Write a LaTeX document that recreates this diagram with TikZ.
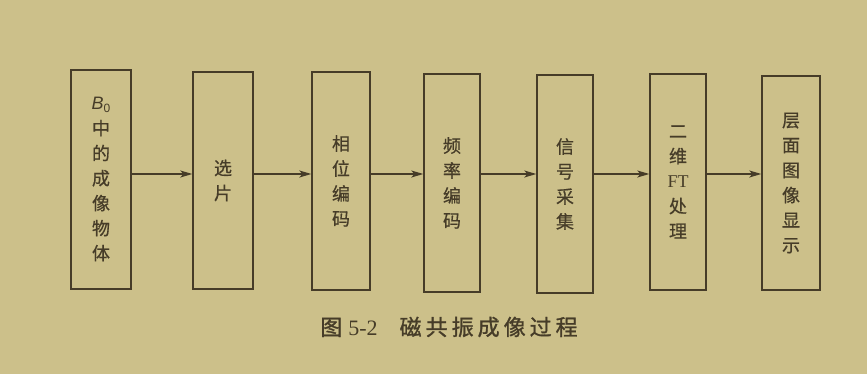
\documentclass[tikz,border=0pt]{standalone}
\usepackage{fontspec}
\setmainfont[FakeBold=0.6]{Noto Sans CJK SC}
\newfontfamily\capfont[FakeBold=1.2]{Noto Sans CJK SC}
\newfontfamily\latserif{Liberation Serif}
\newfontfamily\latsans{Liberation Sans}
\usetikzlibrary{arrows.meta}
\definecolor{paper}{RGB}{204,192,138}
\definecolor{ink}{RGB}{70,60,40}
\newcommand{\capsp}{\hspace{4pt}}
\tikzset{
  stagebox/.style={draw=ink, line width=1.4pt, inner sep=0pt, align=center,
    text=ink, font=\fontsize{18}{25}\selectfont},
  arr/.style={draw=ink, line width=1.3pt, -{Stealth[length=12pt,width=7pt,inset=3pt]}},
}
\begin{document}
\begin{tikzpicture}[x=1pt,y=1pt]
\fill[paper] (0,0) rectangle (867,374);
\useasboundingbox (0,0) rectangle (867,374);
\node[stagebox, minimum width=60pt, minimum height=219pt] (b1) at (101,194.5) {{\latsans\itshape B\raisebox{-3pt}{\upshape\fontsize{12}{12}\selectfont 0}}\\中\\的\\成\\像\\物\\体};
\node[stagebox, minimum width=60pt, minimum height=217pt] (b2) at (223,193.5) {选\\片};
\node[stagebox, minimum width=58pt, minimum height=218pt] (b3) at (341,193) {相\\位\\编\\码};
\node[stagebox, minimum width=56pt, minimum height=218pt] (b4) at (452,191) {频\\率\\编\\码};
\node[stagebox, minimum width=56pt, minimum height=218pt] (b5) at (565,190) {信\\号\\采\\集};
\node[stagebox, minimum width=56pt, minimum height=216pt] (b6) at (678,192) {二\\维\\{\latserif FT}\\处\\理};
\node[stagebox, minimum width=58pt, minimum height=214pt] (b7) at (791,191) {层\\面\\图\\像\\显\\示};
\coordinate (ay) at (0,200);
\draw[arr] (b1.east |- ay) -- (b2.west |- ay);
\draw[arr] (b2.east |- ay) -- (b3.west |- ay);
\draw[arr] (b3.east |- ay) -- (b4.west |- ay);
\draw[arr] (b4.east |- ay) -- (b5.west |- ay);
\draw[arr] (b5.east |- ay) -- (b6.west |- ay);
\draw[arr] (b6.east |- ay) -- (b7.west |- ay);
\node[text=ink, font=\capfont\fontsize{22}{24}\selectfont] (cap) at (449,47) {图\hspace{6pt}{\latserif 5-2}\hspace{22pt}磁\capsp 共\capsp 振\capsp 成\capsp 像\capsp 过\capsp 程};
\end{tikzpicture}
\end{document}
